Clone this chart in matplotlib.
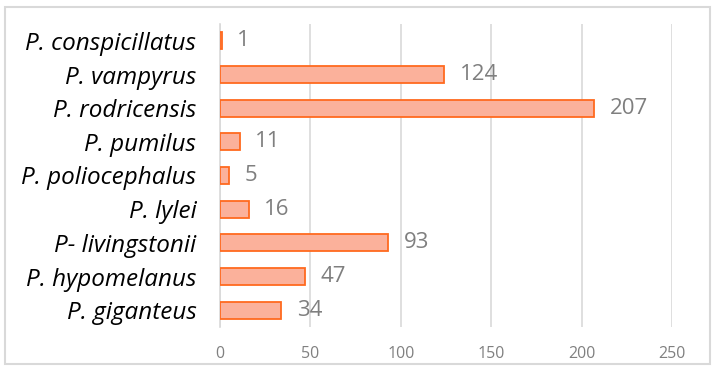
import matplotlib
matplotlib.use("Agg")
import matplotlib.pyplot as plt
from matplotlib.patches import Rectangle

species = ["P. giganteus", "P. hypomelanus", "P- livingstonii", "P. lylei",
           "P. poliocephalus", "P. pumilus", "P. rodricensis", "P. vampyrus",
           "P. conspicillatus"]
counts = [34, 47, 93, 16, 5, 11, 207, 124, 1]
xticks = [0, 50, 100, 150, 200, 250]

plt.rcParams['font.family'] = ['Open Sans', 'DejaVu Sans']

fig = plt.figure(figsize=(7.16, 3.70), dpi=100)
ax = fig.add_axes([220/716, 43/370, (672-220)/716, (327-24)/370])

ax.barh(range(len(species)), counts, height=0.5, color='#FBB19B',
        edgecolor='#FF6A1F', linewidth=1.3, zorder=3)
for i, v in enumerate(counts):
    ax.annotate(str(v), (v, i), xytext=(11, 0), textcoords='offset points',
                va='center', ha='left', fontsize=16, color='#7F7F7F')

ax.set_xlim(0, 250)
ax.set_ylim(-0.5, len(species) - 0.5)
ax.set_xticks(xticks)
ax.set_xticklabels([str(t) for t in xticks])
ax.set_yticks(range(len(species)))
ax.set_yticklabels(species, fontsize=17.5, style='italic', color='#000000')
ax.tick_params(axis='x', length=0, labelsize=11.5, labelcolor='#808080', pad=14)
ax.tick_params(axis='y', length=0, pad=17)
ax.grid(axis='x', color='#D9D9D9', linewidth=1.2, zorder=0)
for s in ['top', 'right', 'bottom']:
    ax.spines[s].set_visible(False)
ax.spines['left'].set_color('#D9D9D9')
ax.spines['left'].set_linewidth(1.2)

fig.patches.append(Rectangle((5/716, 6/370), 705/716, 357/370, transform=fig.transFigure,
                             fill=False, edgecolor='#D9D9D9', linewidth=1.5))

fig.savefig("out.png", dpi=100)
